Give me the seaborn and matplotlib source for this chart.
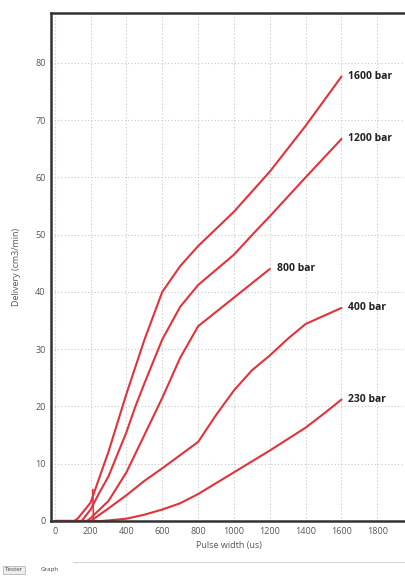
import pandas as pd
import matplotlib
matplotlib.use("Agg")
import matplotlib.pyplot as plt
import seaborn as sns

# Delivery curves (pulse width in us, delivery in cm3/min)
x_1600 = [0, 110, 130, 200, 300, 400, 500, 600, 700, 800, 900, 1000, 1200, 1400, 1600]
y_1600 = [0, 0, 0.5, 3.2, 12.1, 22.2, 31.6, 40, 44.5, 48, 51, 54, 61, 69, 77.6]

x_1200 = [0, 150, 200, 250, 300, 400, 450, 500, 600, 700, 800, 1000, 1100, 1200, 1400, 1600]
y_1200 = [0, 0, 2, 5, 7.8, 15.5, 20, 24, 31.7, 37.4, 41.2, 46.5, 49.9, 53.2, 60, 66.7]

x_800 = [0, 180, 200, 300, 400, 500, 600, 700, 800, 900, 1000, 1100, 1200]
y_800 = [0, 0, 0.5, 3.5, 8.5, 15, 21.5, 28.5, 34, 36.5, 39, 41.5, 44]

x_400 = [0, 200, 300, 400, 500, 600, 700, 800, 900, 1000, 1100, 1200, 1300, 1400, 1600]
y_400 = [0, 0, 2.2, 4.5, 7, 9.2, 11.5, 13.8, 18.5, 22.8, 26.3, 28.9, 31.8, 34.4, 37.2]

x_230 = [0, 260, 300, 400, 500, 600, 700, 800, 900, 1000, 1100, 1200, 1300, 1400, 1500, 1600]
y_230 = [0, 0, 0.1, 0.4, 1.1, 2, 3.1, 4.7, 6.6, 8.5, 10.4, 12.3, 14.3, 16.3, 18.7, 21.2]

# short vertical glitch in the traces near 215 us
x_glitch = [212, 218]
y_glitch = [5.5, -2]

series = {
    "1600 bar": (x_1600, y_1600),
    "1200 bar": (x_1200, y_1200),
    "800 bar": (x_800, y_800),
    "400 bar": (x_400, y_400),
    "230 bar": (x_230, y_230),
}

x_ticks = [0, 200, 400, 600, 800, 1000, 1200, 1400, 1600, 1800]
y_ticks = [0, 10, 20, 30, 40, 50, 60, 70, 80]

sns.set_style("white")
plt.rcParams["font.family"] = ["Open Sans", "DejaVu Sans"]

fig = plt.figure(figsize=(4.06, 5.76), dpi=100)
ax = fig.add_axes([0.126, 0.0955, 0.874, 0.882])

red = "#e2323b"
for name, (xs, ys) in series.items():
    df = pd.DataFrame({"x": xs, "y": ys})
    sns.lineplot(data=df, x="x", y="y", ax=ax, color=red, linewidth=1.5,
                 sort=False, estimator=None)
    ax.annotate(name, (xs[-1], ys[-1]), xytext=(5, 0), textcoords="offset points",
                fontsize=7.5, fontweight="bold", color="#222222", va="center")

sns.lineplot(x=x_glitch, y=y_glitch, ax=ax, color=red, linewidth=1.2,
             sort=False, estimator=None)

ax.set_xlim(-20, 1960)
ax.set_ylim(0, 88.7)
ax.set_xticks(x_ticks)
ax.set_yticks(y_ticks)
ax.grid(True, color="#c8c8c8", linestyle=(0, (1, 2)), linewidth=0.8)
ax.tick_params(labelsize=6.5, labelcolor="#555555", length=0, pad=4)
ax.set_xlabel("Pulse width (us)", fontsize=6.5, color="#555555", labelpad=4)
ax.set_ylabel("Delivery (cm3/min)", fontsize=6.5, color="#555555", labelpad=10)

for side in ["left", "bottom", "top"]:
    ax.spines[side].set_color("#333333")
    ax.spines[side].set_linewidth(1.8)
ax.spines["right"].set_visible(False)

# little window tabs at the bottom
fig.text(0.012, 0.008, "Tester", fontsize=4.5, color="#444444",
         bbox=dict(boxstyle="square,pad=0.3", fc="#eeeeee", ec="#aaaaaa", lw=0.5))
fig.text(0.1, 0.008, "Graph", fontsize=4.5, color="#444444")
fig.add_artist(plt.Line2D([0.18, 1.0], [0.025, 0.025], color="#cccccc", lw=0.6))

fig.savefig("out.png", dpi=100)
